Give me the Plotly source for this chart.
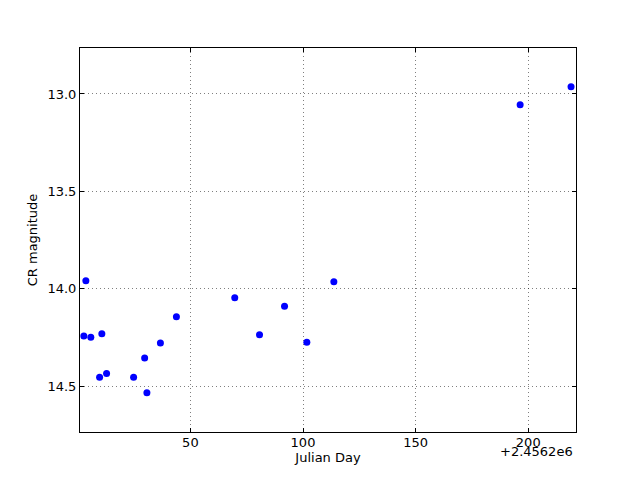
import plotly.graph_objects as go

OFFSET = 2456200
jd_offset = [2.7, 3.6, 5.8, 9.7, 10.7, 12.8, 24.8, 29.7, 30.7, 36.7, 43.8,
             69.7, 80.7, 91.8, 101.7, 113.7, 196.4, 219.0]
cr_mag = [14.243, 13.959, 14.250, 14.455, 14.231, 14.435, 14.455, 14.356, 14.534,
          14.279, 14.144, 14.046, 14.236, 14.090, 14.275, 13.964, 13.056, 12.963]
x_ticks = [50, 100, 150, 200]
y_ticks = [13.0, 13.5, 14.0, 14.5]

fig = go.Figure()
fig.add_trace(go.Scatter(
    x=jd_offset, y=cr_mag, mode="markers",
    marker=dict(color="#0000ff", size=7, line=dict(width=0)),
    showlegend=False,
))

font = dict(family="DejaVu Sans", size=13, color="black")
axis_common = dict(
    showline=True, linecolor="black", linewidth=1, mirror="ticks",
    ticks="inside", ticklen=4, tickwidth=1, tickcolor="black",
    showgrid=True, gridcolor="rgba(0,0,0,0.5)", gridwidth=1, griddash="1px,3px",
    zeroline=False, tickfont=font, automargin=False,
)

# page body has an 8px margin, so margins are shifted to compensate
fig.update_layout(
    width=640, height=480,
    margin=dict(l=72, r=72, t=40, b=56),
    paper_bgcolor="white", plot_bgcolor="white",
    font=font,
    xaxis=dict(range=[1.0, 221.2], tickvals=x_ticks,
               ticktext=[str(v) for v in x_ticks],
               title=dict(text="Julian Day", font=font, standoff=0),
               ticklabelstandoff=-2,
               **axis_common),
    yaxis=dict(range=[14.736, 12.764], tickvals=y_ticks,
               ticktext=[f"{v:.1f}" for v in y_ticks],
               title=dict(text="CR magnitude", font=font, standoff=6),
               **axis_common),
    annotations=[dict(
        text="+2.4562e6", xref="paper", yref="paper", x=1.0, y=0,
        xanchor="right", yanchor="middle", yshift=-19, xshift=-1,
        showarrow=False, font=font,
    )],
)

fig.write_html("out.html")
